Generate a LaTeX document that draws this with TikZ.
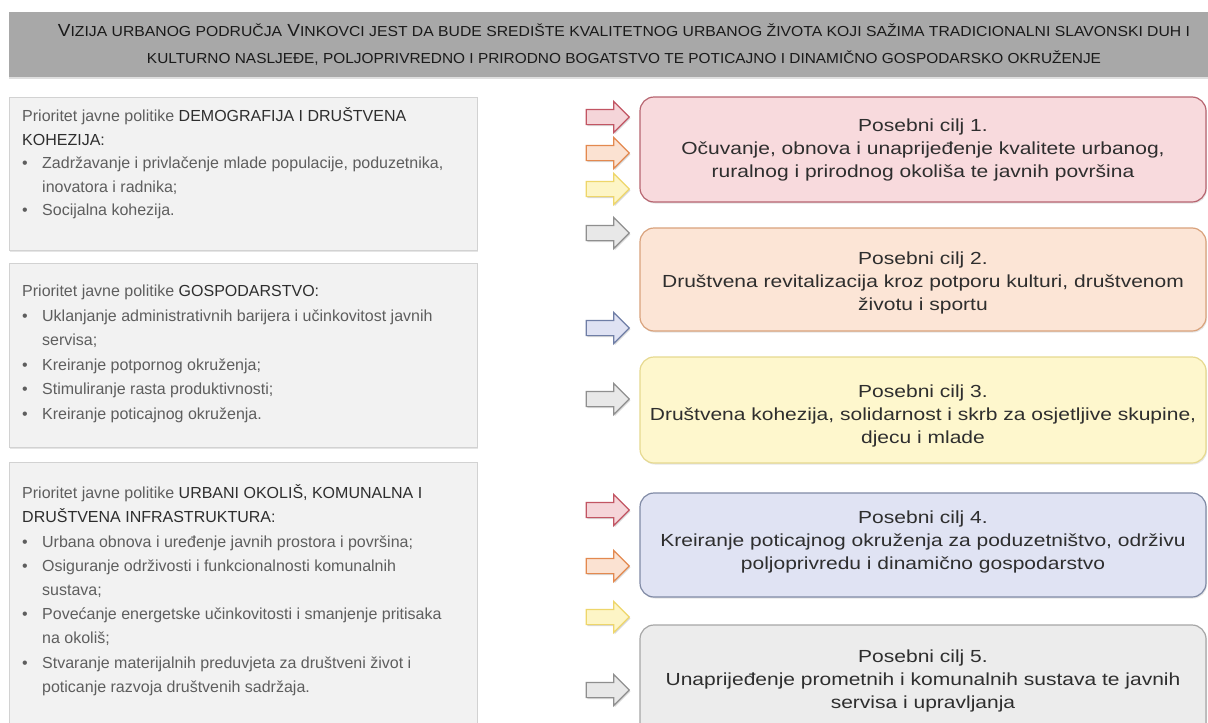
\documentclass[tikz,border=0pt]{standalone}
\usepackage{fontspec}
\usepackage{graphicx}
\setmainfont{Liberation Sans}
\newfontfamily\rfont[FakeStretch=1.2]{Liberation Sans}
\usetikzlibrary{shapes.arrows,shadows}
\definecolor{bannerF}{HTML}{A8A8A8}
\definecolor{bannerT}{HTML}{1A1A1A}
\definecolor{lboxF}{HTML}{F2F2F2}
\definecolor{lboxD}{HTML}{D2D2D2}
\definecolor{txt}{HTML}{5E5E5E}
\definecolor{dark}{HTML}{2E2E2E}
\definecolor{redF}{HTML}{F5D5D9}\definecolor{redD}{HTML}{C25563}
\definecolor{orgF}{HTML}{FBE2D2}\definecolor{orgD}{HTML}{E3894F}
\definecolor{yelF}{HTML}{FDF5C6}\definecolor{yelD}{HTML}{EED66A}
\definecolor{gryF}{HTML}{E8E8E8}\definecolor{gryD}{HTML}{8F8F8F}
\definecolor{bluF}{HTML}{DFE2F3}\definecolor{bluD}{HTML}{6F7EA6}
\definecolor{c1F}{HTML}{F8DADD}\definecolor{c1D}{HTML}{B76570}
\definecolor{c2F}{HTML}{FCE5D6}\definecolor{c2D}{HTML}{D9A27C}
\definecolor{c3F}{HTML}{FEF7CD}\definecolor{c3D}{HTML}{E6D98F}
\definecolor{c4F}{HTML}{E0E3F3}\definecolor{c4D}{HTML}{808AA5}
\definecolor{c5F}{HTML}{ECECEC}\definecolor{c5D}{HTML}{A6A6A6}
\newcommand\bsc[1]{{\fontsize{14.5}{14.5}\selectfont #1}}
\newcommand\bul{\makebox[20pt][l]{\textbullet}}
\newcommand\ind{\hspace*{20pt}}
\newcommand\fst{\rule{0pt}{15pt}}
\begin{document}
\begin{tikzpicture}[x=1pt,y=-1pt,
  banner/.style={fill=bannerF, draw=none, minimum width=1199pt, minimum height=65pt, inner sep=0pt,
    drop shadow={opacity=0.25,shadow xshift=0pt,shadow yshift=-2pt}},
  btext/.style={text=bannerT, inner sep=0pt, anchor=base, font=\fontsize{17.5}{17.5}\selectfont},
  lbox/.style={fill=lboxF, draw=lboxD, line width=1pt, minimum width=468pt, inner sep=0pt,
    drop shadow={opacity=0.2,shadow xshift=1pt,shadow yshift=-1.5pt}},
  ltext/.style={text=txt, inner sep=0pt, anchor=north west, align=left},
  cbox/.style={rounded corners=14pt, line width=1.2pt, minimum width=566pt, inner sep=0pt,
    drop shadow={opacity=0.2,shadow xshift=1pt,shadow yshift=-1.5pt}},
  ctext/.style={text=dark, inner sep=0pt, align=center, font=\rfont\fontsize{17.5}{23}\selectfont},
  harrow/.style={single arrow, minimum height=43pt, minimum width=30pt, single arrow head extend=8pt,
    inner sep=7pt, line width=1.2pt, drop shadow={opacity=0.3,shadow xshift=1pt,shadow yshift=-1.5pt}}
]
\useasboundingbox (0,0) rectangle (1208,723);
\fill[white] (0,0) rectangle (1208,723);

% banner
\node[banner] (vision) at (608.5,44.5) {};
\node[btext] (vis1) at (624,36) {\resizebox{1132pt}{\height}{V\bsc{IZIJA URBANOG PODRUČJA} V\bsc{INKOVCI JEST DA BUDE SREDIŠTE KVALITETNOG URBANOG ŽIVOTA KOJI SAŽIMA TRADICIONALNI SLAVONSKI DUH I}}};
\node[btext] (vis2) at (624,63.5) {\resizebox{954pt}{\height}{\bsc{KULTURNO NASLJEĐE, POLJOPRIVREDNO I PRIRODNO BOGATSTVO TE POTICAJNO I DINAMIČNO GOSPODARSKO OKRUŽENJE}}};

% left boxes
\node[lbox, minimum height=153pt] (L1) at (243,173.5) {};
\node[lbox, minimum height=184pt] (L2) at (243,355) {};
\node[lbox, minimum height=273pt] (L3) at (243,598.5) {};

\node[ltext, font=\fontsize{16}{23.5}\selectfont] (L1t) at (22,106.5) {\fst Prioritet javne politike \textcolor{dark}{DEMOGRAFIJA I DRUŠTVENA}\\
\textcolor{dark}{KOHEZIJA:}\\
\bul Zadržavanje i privlačenje mlade populacije, poduzetnika,\\
\ind inovatora i radnika;\\
\bul Socijalna kohezija.};

\node[ltext, font=\fontsize{16}{24.5}\selectfont] (L2t) at (22,281.5) {\fst Prioritet javne politike \textcolor{dark}{GOSPODARSTVO:}\\
\bul Uklanjanje administrativnih barijera i učinkovitost javnih\\
\ind servisa;\\
\bul Kreiranje potpornog okruženja;\\
\bul Stimuliranje rasta produktivnosti;\\
\bul Kreiranje poticajnog okruženja.};

\node[ltext, font=\fontsize{16}{24.2}\selectfont] (L3t) at (22,483.5) {\fst Prioritet javne politike \textcolor{dark}{URBANI OKOLIŠ, KOMUNALNA I}\\
\textcolor{dark}{DRUŠTVENA INFRASTRUKTURA:}\\
\bul Urbana obnova i uređenje javnih prostora i površina;\\
\bul Osiguranje održivosti i funkcionalnosti komunalnih\\
\ind sustava;\\
\bul Povećanje energetske učinkovitosti i smanjenje pritisaka\\
\ind na okoliš;\\
\bul Stvaranje materijalnih preduvjeta za društveni život i\\
\ind poticanje razvoja društvenih sadržaja.};

% arrows
\node[harrow, fill=redF, draw=redD] (a1) at (604,117) {};
\node[harrow, fill=orgF, draw=orgD] (a2) at (604,153) {};
\node[harrow, fill=yelF, draw=yelD] (a3) at (604,189) {};
\node[harrow, fill=gryF, draw=gryD] (a4) at (604,233) {};
\node[harrow, fill=bluF, draw=bluD] (a5) at (604,328) {};
\node[harrow, fill=gryF, draw=gryD] (a6) at (604,399) {};
\node[harrow, fill=redF, draw=redD] (a7) at (604,510) {};
\node[harrow, fill=orgF, draw=orgD] (a8) at (604,566) {};
\node[harrow, fill=yelF, draw=yelD] (a9) at (604,617) {};
\node[harrow, fill=gryF, draw=gryD] (a10) at (604,690) {};

% goal boxes
\node[cbox, fill=c1F, draw=c1D, minimum height=105pt] (C1) at (923,149.5) {};
\node[cbox, fill=c2F, draw=c2D, minimum height=103pt] (C2) at (923,279.5) {};
\node[cbox, fill=c3F, draw=c3D, minimum height=106pt] (C3) at (923,410) {};
\node[cbox, fill=c4F, draw=c4D, minimum height=104pt] (C4) at (923,545) {};
\node[cbox, fill=c5F, draw=c5D, minimum height=115pt] (C5) at (923,682.5) {};

\node[ctext] (C1t) at (923,150) {Posebni cilj 1.\\Očuvanje, obnova i unaprijeđenje kvalitete urbanog,\\ruralnog i prirodnog okoliša te javnih površina};
\node[ctext] (C2t) at (923,283) {Posebni cilj 2.\\Društvena revitalizacija kroz potporu kulturi, društvenom\\životu i sportu};
\node[ctext] (C3t) at (923,416) {Posebni cilj 3.\\Društvena kohezija, solidarnost i skrb za osjetljive skupine,\\djecu i mlade};
\node[ctext] (C4t) at (923,542) {Posebni cilj 4.\\Kreiranje poticajnog okruženja za poduzetništvo, održivu\\poljoprivredu i dinamično gospodarstvo};
\node[ctext] (C5t) at (923,681) {Posebni cilj 5.\\Unaprijeđenje prometnih i komunalnih sustava te javnih\\servisa i upravljanja};
\end{tikzpicture}
\end{document}
